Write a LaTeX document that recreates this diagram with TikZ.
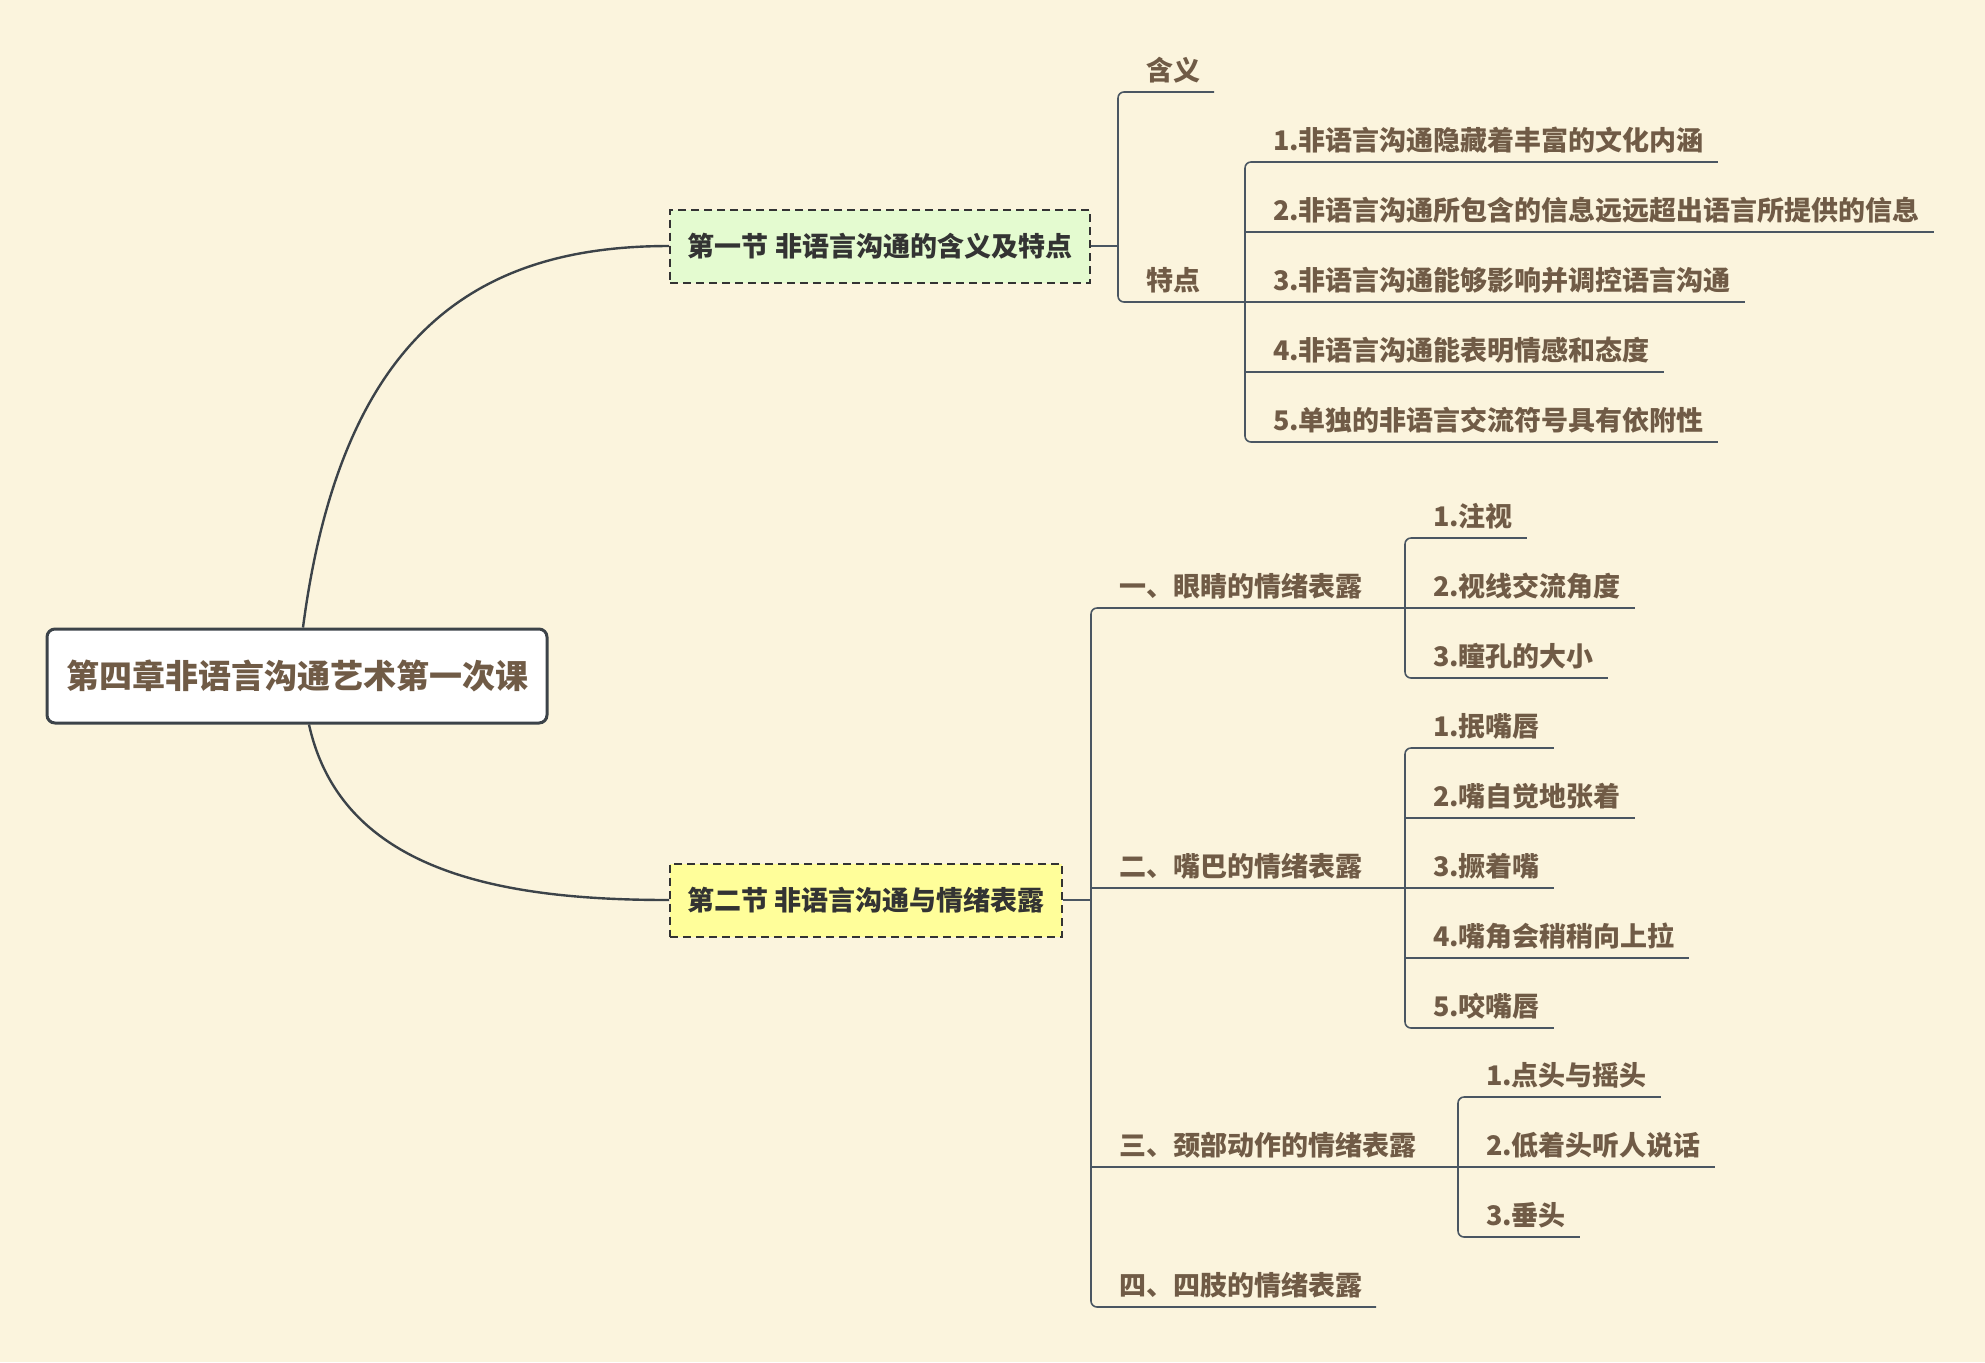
\documentclass[tikz,border=0pt]{standalone}
\usepackage{fontspec}
\setmainfont{Noto Sans CJK SC}
\usepackage{tikz}
\usetikzlibrary{positioning}
\definecolor{MapBack}{HTML}{FBF4DD}
\definecolor{MapBrown}{HTML}{705B46}
\definecolor{MapInk}{HTML}{333333}
\definecolor{MapLine}{HTML}{4A5662}
\definecolor{MapCurve}{HTML}{3C4349}
\definecolor{MapGreen}{HTML}{E4FBD0}
\definecolor{MapYellow}{HTML}{FFFE9A}
\tikzset{
  rootbox/.style={draw=MapCurve,line width=1.5pt,rounded corners=4pt,fill=white,text=MapBrown,font=\fontsize{16.5pt}{20pt}\selectfont\bfseries,minimum width=250pt,minimum height=47pt},
  secbox/.style={draw=MapInk,line width=1pt,dash pattern=on 4pt off 2.5pt,text=MapInk,font=\fontsize{13.5pt}{16pt}\selectfont\bfseries,minimum height=36.5pt},
  leaf/.style={anchor=south west,text=MapBrown,font=\fontsize{13.5pt}{16pt}\selectfont\bfseries,inner xsep=7pt,inner ysep=3pt,text height=10pt,text depth=2.75pt,outer sep=0pt},
  twig/.style={draw=MapLine,line width=0.8pt,rounded corners=3pt},
  limb/.style={draw=MapCurve,line width=1.2pt}
}

\begin{document}
\begin{tikzpicture}[x=0.5pt,y=-0.5pt]
\fill[MapBack] (0,0) rectangle (1985,1362);
\useasboundingbox (0,0) rectangle (1985,1362);
\node[rootbox] (root) at (297,676) {第四章非语言沟通艺术第一次课};
\node[secbox,fill=MapGreen,minimum width=210pt] (s1) at (880,246) {第一节 非语言沟通的含义及特点};
\node[secbox,fill=MapYellow,minimum width=196pt] (s2) at (866,900) {第二节 非语言沟通与情绪表露};
\draw[limb] ([xshift=3pt]root.north) .. controls (342,329) and (481,246) .. (s1.west);
\draw[limb] ([xshift=6pt]root.south) .. controls (342,874) and (506,900) .. (s2.west);
% section one
\coordinate (j1) at (1118,246);
\coordinate (j2) at (1245,302);
\node[leaf] (hy) at (1132,92) {含义};
\node[leaf] (td) at (1132,302) {特点};
\node[leaf] (t1) at (1259,162) {1.非语言沟通隐藏着丰富的文化内涵};
\node[leaf,below right=16.25pt and 0pt of t1.south west] (t2) {2.非语言沟通所包含的信息远远超出语言所提供的信息};
\node[leaf,below right=16.25pt and 0pt of t2.south west] (t3) {3.非语言沟通能够影响并调控语言沟通};
\node[leaf,below right=16.25pt and 0pt of t3.south west] (t4) {4.非语言沟通能表明情感和态度};
\node[leaf,below right=16.25pt and 0pt of t4.south west] (t5) {5.单独的非语言交流符号具有依附性};
\draw[twig] (s1) -- (j1);
\draw[twig] (hy.south east) -- (j1 |- hy.south) -- (j1 |- td.south) -- (j2);
\draw[twig] (t1.south east) -- (j2 |- t1.south) -- (j2 |- t5.south) -- (t5.south east);
\draw[twig] (j2 |- t2.south) -- (t2.south east);
\draw[twig] (j2) -- (t3.south east);
\draw[twig] (j2 |- t4.south) -- (t4.south east);
% section two
\coordinate (j3) at (1091,900);
\coordinate (j4) at (1405,608);
\coordinate (j5) at (1405,888);
\coordinate (j6) at (1458,1167);
\node[leaf] (b1) at (1105,608) {一、眼睛的情绪表露};
\node[leaf] (b2) at (1105,888) {二、嘴巴的情绪表露};
\node[leaf] (b3) at (1105,1167) {三、颈部动作的情绪表露};
\node[leaf] (b4) at (1105,1307) {四、四肢的情绪表露};
\node[leaf] (e1) at (1419,538) {1.注视};
\node[leaf,below right=16.25pt and 0pt of e1.south west] (e2) {2.视线交流角度};
\node[leaf,below right=16.25pt and 0pt of e2.south west] (e3) {3.瞳孔的大小};
\node[leaf] (m1) at (1419,748) {1.抿嘴唇};
\node[leaf,below right=16.25pt and 0pt of m1.south west] (m2) {2.嘴自觉地张着};
\node[leaf,below right=16.25pt and 0pt of m2.south west] (m3) {3.撅着嘴};
\node[leaf,below right=16.25pt and 0pt of m3.south west] (m4) {4.嘴角会稍稍向上拉};
\node[leaf,below right=16.25pt and 0pt of m4.south west] (m5) {5.咬嘴唇};
\node[leaf] (n1) at (1472,1097) {1.点头与摇头};
\node[leaf,below right=16.25pt and 0pt of n1.south west] (n2) {2.低着头听人说话};
\node[leaf,below right=16.25pt and 0pt of n2.south west] (n3) {3.垂头};
\draw[twig] (s2) -- (j3);
\draw[twig] (j4) -- (j3 |- b1.south) -- (j3 |- b4.south) -- (b4.south east);
\draw[twig] (j3 |- b2.south) -- (j5);
\draw[twig] (j3 |- b3.south) -- (j6);
\draw[twig] (e1.south east) -- (j4 |- e1.south) -- (j4 |- e3.south) -- (e3.south east);
\draw[twig] (j4) -- (e2.south east);
\draw[twig] (m1.south east) -- (j5 |- m1.south) -- (j5 |- m5.south) -- (m5.south east);
\draw[twig] (j5 |- m2.south) -- (m2.south east);
\draw[twig] (j5) -- (m3.south east);
\draw[twig] (j5 |- m4.south) -- (m4.south east);
\draw[twig] (n1.south east) -- (j6 |- n1.south) -- (j6 |- n3.south) -- (n3.south east);
\draw[twig] (j6) -- (n2.south east);
\end{tikzpicture}
\end{document}
